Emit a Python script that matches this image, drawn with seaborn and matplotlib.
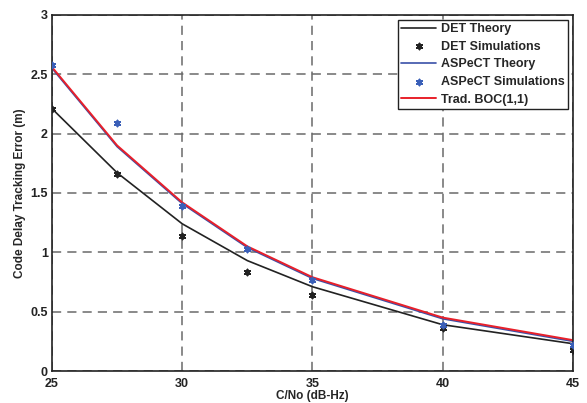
import matplotlib
matplotlib.use("Agg")
import matplotlib.pyplot as plt
import seaborn as sns
import pandas as pd

cn0 = [25, 27.5, 30, 32.5, 35, 40, 45]
det_theory = [2.21, 1.67, 1.24, 0.93, 0.71, 0.39, 0.23]
det_sim = [2.21, 1.66, 1.14, 0.83, 0.64, 0.36, 0.18]
aspect_theory = [2.55, 1.89, 1.41, 1.04, 0.78, 0.44, 0.25]
aspect_sim = [2.58, 2.09, 1.39, 1.03, 0.77, 0.39, 0.22]
trad_boc = [2.56, 1.90, 1.42, 1.05, 0.79, 0.45, 0.26]

sns.set_style("white")
plt.rcParams['font.family'] = ['Liberation Sans', 'DejaVu Sans']
plt.rcParams['font.weight'] = 'bold'

fig = plt.figure(figsize=(5.87, 4.03), dpi=100)
ax = fig.add_axes([0.0886, 0.0794, 0.976 - 0.0886, 0.963 - 0.0794])

mk = (6, 2, 0)
sns.lineplot(x=cn0, y=det_theory, ax=ax, color='#222222', lw=1.2, label='DET Theory')
sns.scatterplot(x=cn0, y=det_sim, ax=ax, marker=mk, color='#222222', s=18, linewidth=1.3,
                edgecolor='#222222', label='DET Simulations', zorder=5)
sns.lineplot(x=cn0, y=aspect_theory, ax=ax, color='#3a50a8', lw=1.2, label='ASPeCT Theory')
sns.scatterplot(x=cn0, y=aspect_sim, ax=ax, marker=mk, color='#3a5fb8', s=18, linewidth=1.3,
                edgecolor='#3a5fb8', label='ASPeCT Simulations', zorder=5)
sns.lineplot(x=cn0, y=trad_boc, ax=ax, color='#e8202a', lw=1.4, label='Trad. BOC(1,1)')

ax.set_xlim(25, 45)
ax.set_ylim(0, 3)
ax.set_xticks([25, 30, 35, 40, 45])
ax.set_yticks([0, 0.5, 1, 1.5, 2, 2.5, 3])
ax.set_yticklabels(['0', '0.5', '1', '1.5', '2', '2.5', '3'])
ax.grid(True, color='#6a6a6a', linestyle=(0, (6, 4)), linewidth=1.1)
ax.set_axisbelow(True)
for s in ax.spines.values():
    s.set_color('#222222')
    s.set_linewidth(1.2)
ax.tick_params(axis='both', labelsize=9, length=3, direction='in', colors='#222222')
ax.tick_params(axis='x', pad=5)
ax.tick_params(axis='y', pad=3)
for lab in ax.get_xticklabels() + ax.get_yticklabels():
    lab.set_fontweight('bold')
ax.set_xlabel('C/No (dB-Hz)', fontsize=8.5, fontweight='bold', labelpad=0)
ax.set_ylabel('Code Delay Tracking Error (m)', fontsize=8.5, fontweight='bold', labelpad=3)

leg = ax.legend(loc='upper right', fontsize=9, frameon=True, fancybox=False,
                edgecolor='#222222', framealpha=1, borderpad=0.25, labelspacing=0.45,
                handlelength=2.8, handletextpad=0.4, borderaxespad=0.4)
leg.get_frame().set_linewidth(1.0)
for t in leg.get_texts():
    t.set_fontweight('bold')

fig.savefig('out.png', dpi=100)
